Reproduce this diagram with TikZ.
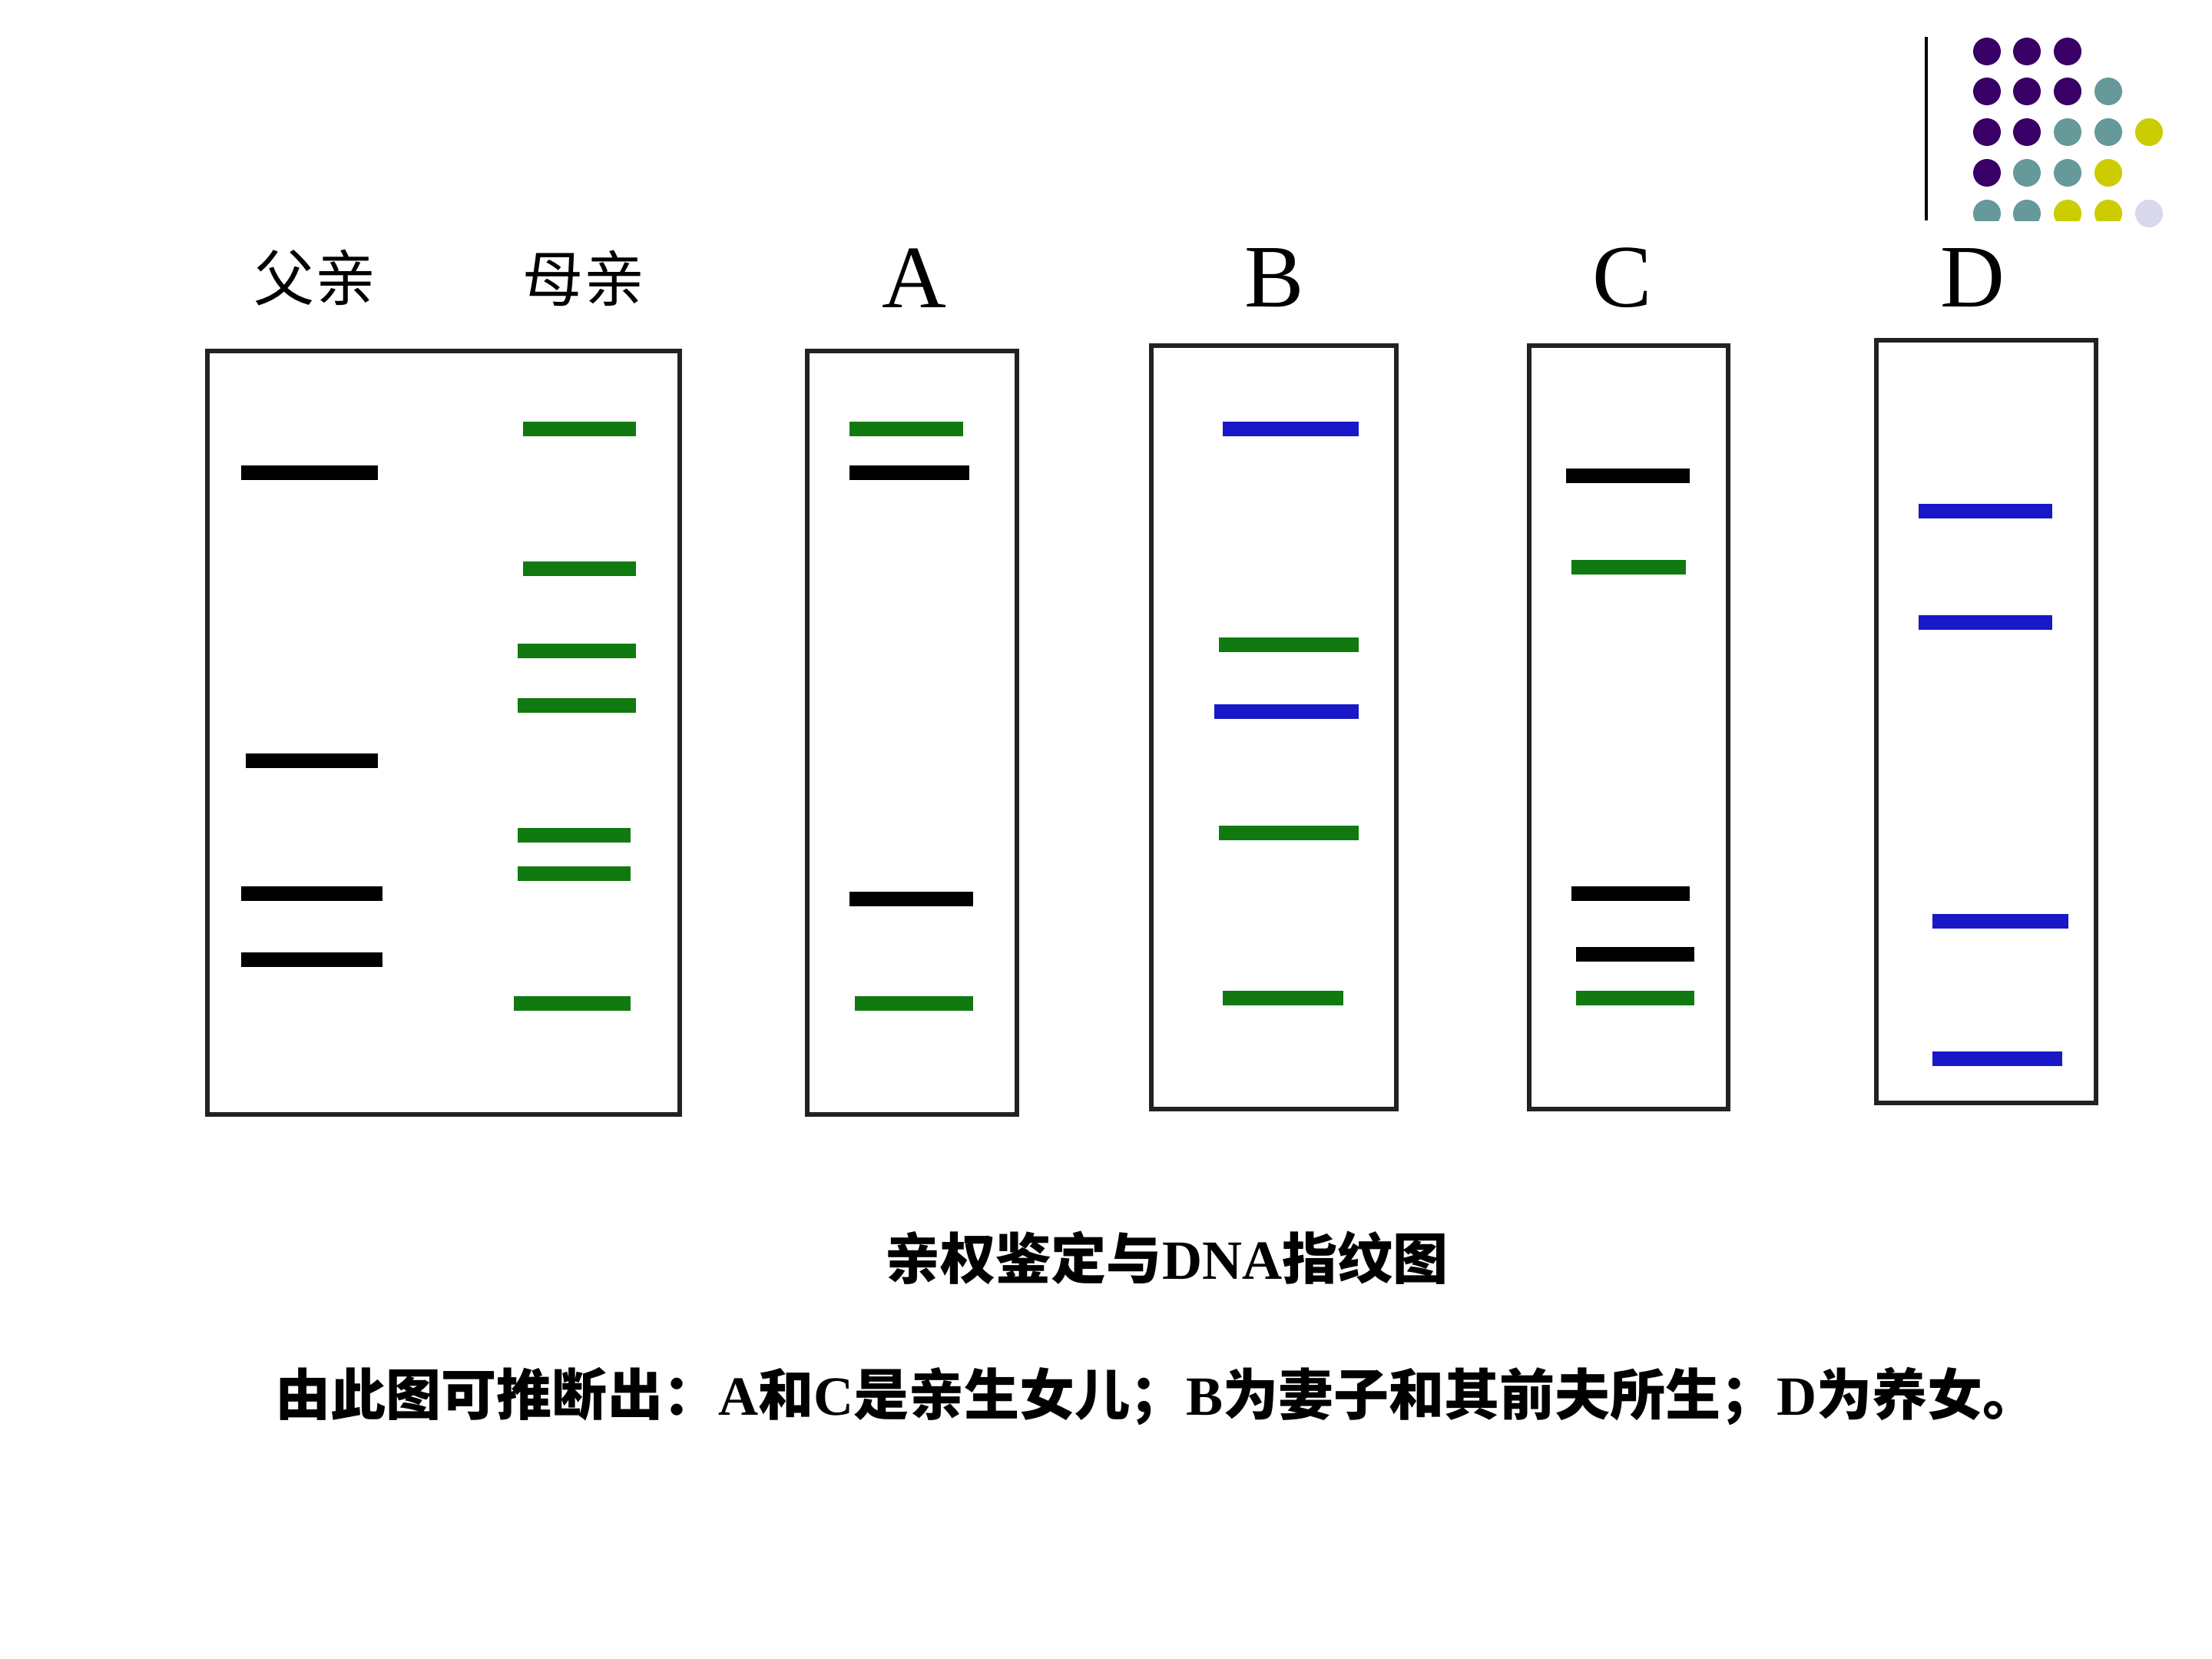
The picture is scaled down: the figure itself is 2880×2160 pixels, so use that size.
\documentclass[tikz,border=0pt]{standalone}
\usepackage{fontspec}
\setmainfont{Liberation Serif}
\newfontfamily\cjk{Noto Sans CJK SC}
\definecolor{bandgreen}{RGB}{16,122,16}
\definecolor{bandblue}{RGB}{24,24,200}
\definecolor{dotP}{RGB}{56,0,102}
\definecolor{dotT}{RGB}{102,153,153}
\definecolor{dotY}{RGB}{204,204,0}
\definecolor{dotL}{RGB}{216,216,236}
\definecolor{boxline}{RGB}{34,34,34}
\tikzset{
  gel/.style={draw=boxline, line width=1.6pt},
  band/.style={line width=5.4pt, draw=#1},
  lanelabel/.style={font=\fontsize{33}{36}\selectfont, inner sep=0pt},
  cjklabel/.style={font=\cjk\fontsize{22.5}{26}\selectfont, inner sep=0pt},
  caption/.style={font=\bfseries\fontsize{20.5}{24}\selectfont, inner sep=0pt},
  note/.style={font=\bfseries\fontsize{20.5}{24}\selectfont, inner sep=0pt},
  dot/.style={fill=#1, draw=none}
}
\begin{document}
\begin{tikzpicture}[x=0.01cm, y=-0.01cm]
\useasboundingbox (0,0) rectangle (2880,2160);
% top-right decoration
\draw[line width=1pt, black] (2508,48) coordinate (vtop) -- (2508,287) coordinate (vbot);
\begin{scope}
\clip (2560,40) rectangle (2780,287);
\foreach \c/\x/\y in {dotP/2587/67, dotP/2639/67, dotP/2692/67,
  dotP/2587/119, dotP/2639/119, dotP/2692/119, dotT/2745/119,
  dotP/2587/172, dotP/2639/172, dotT/2692/172, dotT/2745/172,
  dotP/2587/225, dotT/2639/225, dotT/2692/225, dotY/2745/225,
  dotT/2587/278, dotT/2639/278, dotY/2692/278, dotY/2745/278}
  \fill[dot=\c] (\x,\y) circle (18);
\end{scope}
\fill[dot=dotY] (2798,172) circle (18);
\fill[dot=dotL] (2798,278) circle (18);
% lane labels
\node[cjklabel] (lF) at (410,362) {父亲};
\node[cjklabel] (lM) at (760,362) {母亲};
\node[lanelabel] (lA) at (1190,362) {A};
\node[lanelabel] (lB) at (1659,362) {B};
\node[lanelabel] (lC) at (2112,362) {C};
\node[lanelabel] (lD) at (2568,362) {D};
% gel boxes
\draw[gel] (270,457) rectangle (885,1451);
\draw[gel] (1051,457) rectangle (1324,1451);
\draw[gel] (1499,450) rectangle (1818,1444);
\draw[gel] (1991,450) rectangle (2250,1444);
\draw[gel] (2443,443) rectangle (2729,1436);
% father
\foreach \a/\b/\y in {314/492/615, 320/492/990, 314/498/1163, 314/498/1249}
  \draw[band=black] (\a,\y) -- (\b,\y);
% mother
\foreach \a/\b/\y in {681/828/558, 681/828/740, 674/828/847, 674/828/918, 674/821/1087, 674/821/1137, 669/821/1306}
  \draw[band=bandgreen] (\a,\y) -- (\b,\y);
% A
\draw[band=bandgreen] (1106,558) -- (1254,558);
\draw[band=black] (1106,615) -- (1262,615);
\draw[band=black] (1106,1170) -- (1267,1170);
\draw[band=bandgreen] (1113,1306) -- (1267,1306);
% B
\draw[band=bandblue] (1592,558) -- (1769,558);
\draw[band=bandgreen] (1587,839) -- (1769,839);
\draw[band=bandblue] (1581,926) -- (1769,926);
\draw[band=bandgreen] (1587,1084) -- (1769,1084);
\draw[band=bandgreen] (1592,1299) -- (1749,1299);
% C
\draw[band=black] (2039,619) -- (2200,619);
\draw[band=bandgreen] (2046,738) -- (2195,738);
\draw[band=black] (2046,1163) -- (2200,1163);
\draw[band=black] (2052,1242) -- (2206,1242);
\draw[band=bandgreen] (2052,1299) -- (2206,1299);
% D
\draw[band=bandblue] (2498,665) -- (2672,665);
\draw[band=bandblue] (2498,810) -- (2672,810);
\draw[band=bandblue] (2516,1199) -- (2693,1199);
\draw[band=bandblue] (2516,1378) -- (2685,1378);
% captions
\node[caption] (title) at (1519,1638) {{\cjk\bfseries 亲权鉴定与}DNA{\cjk\bfseries 指纹图}};
\node[note] (concl) at (1506,1818) {{\cjk\bfseries 由此图可推断出：}A{\cjk\bfseries 和}C{\cjk\bfseries 是亲生女儿；}B{\cjk\bfseries 为妻子和其前夫所生；}D{\cjk\bfseries 为养女。}};
\end{tikzpicture}
\end{document}
